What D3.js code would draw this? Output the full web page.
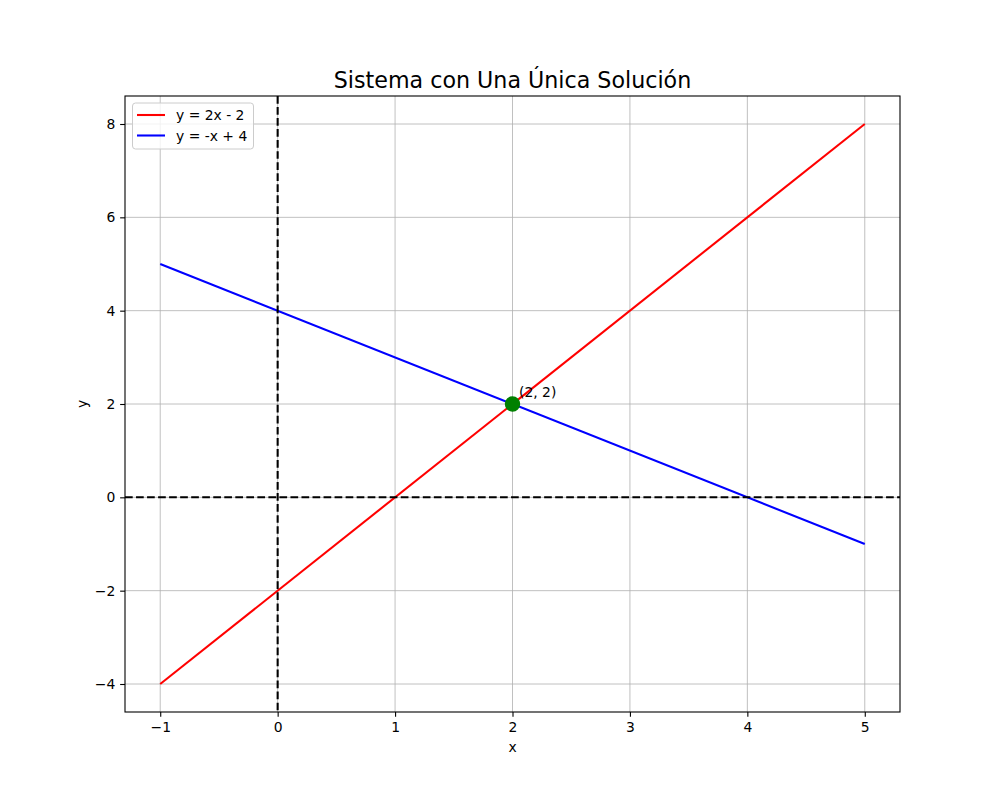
<!DOCTYPE html>
<html>
<head>
<meta charset="utf-8">
<script src="https://cdn.jsdelivr.net/npm/d3@7"></script>
<style>
body{margin:0;background:#fff;}
svg{font-family:"DejaVu Sans",sans-serif;}
</style>
</head>
<body>
<svg id="chart" width="1000" height="800"></svg>
<script>
const xTicks = [-1, 0, 1, 2, 3, 4, 5];
const yTicks = [-4, -2, 0, 2, 4, 6, 8];
const lineX = [-1, 5];
const redY = [-4, 8];
const blueY = [5, -1];
const seriesNames = ["y = 2x - 2", "y = -x + 4"];
const seriesColors = ["red", "blue"];
const solution = {x: 2, y: 2, label: "(2, 2)"};
const titleText = "Sistema con Una Única Solución";

const W = 1000, H = 800;
const m = {left: 125, right: 900, top: 96, bottom: 712};
const svg = d3.select("#chart");
const x = d3.scaleLinear().domain([-1.3, 5.3]).range([m.left, m.right]);
const y = d3.scaleLinear().domain([-4.6, 8.6]).range([m.bottom, m.top]);

// grid
const g = svg.append("g");
g.selectAll(".gx").data(xTicks).enter().append("line")
  .attr("x1", d => x(d)).attr("x2", d => x(d)).attr("y1", m.top).attr("y2", m.bottom)
  .attr("stroke", "#b0b0b0").attr("stroke-width", 0.8);
g.selectAll(".gy").data(yTicks).enter().append("line")
  .attr("y1", d => y(d)).attr("y2", d => y(d)).attr("x1", m.left).attr("x2", m.right)
  .attr("stroke", "#b0b0b0").attr("stroke-width", 0.8);

const clip = svg.append("defs").append("clipPath").attr("id", "clip")
  .append("rect").attr("x", m.left).attr("y", m.top).attr("width", m.right - m.left).attr("height", m.bottom - m.top);

const plot = svg.append("g").attr("clip-path", "url(#clip)");
const line = d3.line().x(d => x(d[0])).y(d => y(d[1]));
[redY, blueY].forEach((ys, i) => {
  plot.append("path").datum(lineX.map((v, j) => [v, ys[j]]))
    .attr("d", line).attr("fill", "none")
    .attr("stroke", seriesColors[i]).attr("stroke-width", 2.08);
});

// dashed axes
plot.append("line").attr("x1", m.left).attr("x2", m.right).attr("y1", y(0)).attr("y2", y(0))
  .attr("stroke", "black").attr("stroke-width", 2.08).attr("stroke-dasharray", "7.7,3.33");
plot.append("line").attr("x1", x(0)).attr("x2", x(0)).attr("y1", m.top).attr("y2", m.bottom)
  .attr("stroke", "black").attr("stroke-width", 2.08).attr("stroke-dasharray", "7.7,3.33");

// point
svg.append("circle").attr("cx", x(solution.x)).attr("cy", y(solution.y)).attr("r", 7)
  .attr("fill", "green").attr("stroke", "green").attr("stroke-width", 1.4);
svg.append("text").attr("x", x(solution.x) + 6.5).attr("y", y(solution.y) - 7.5)
  .attr("font-size", "13.9px").attr("fill", "#000").text(solution.label);

// axes
const xAxis = d3.axisBottom(x).tickValues(xTicks).tickSize(4.86).tickPadding(4.9)
  .tickFormat(d => d < 0 ? "\u2212" + Math.abs(d) : d);
const yAxis = d3.axisLeft(y).tickValues(yTicks).tickSize(4.86).tickPadding(4.9)
  .tickFormat(d => d < 0 ? "\u2212" + Math.abs(d) : d);
const xa = svg.append("g").attr("transform", `translate(0,${m.bottom})`).call(xAxis);
const ya = svg.append("g").attr("transform", `translate(${m.left},0)`).call(yAxis);
[xa, ya].forEach(a => {
  a.select(".domain").remove();
  a.selectAll("text").attr("font-size", "13.9px").attr("fill", "#000").style("font-family", "DejaVu Sans");
  a.selectAll("line").attr("stroke", "#000").attr("stroke-width", 1.1);
});

svg.append("rect").attr("x", m.left).attr("y", m.top).attr("width", m.right - m.left).attr("height", m.bottom - m.top)
  .attr("fill", "none").attr("stroke", "#000").attr("stroke-width", 1.1);

// labels
svg.append("text").attr("x", (m.left + m.right) / 2).attr("y", 752).attr("text-anchor", "middle")
  .attr("font-size", "13.9px").text("x");
svg.append("text").attr("transform", `translate(87,${(m.top + m.bottom) / 2}) rotate(-90)`).attr("text-anchor", "middle")
  .attr("font-size", "13.9px").text("y");
svg.append("text").attr("x", (m.left + m.right) / 2).attr("y", 88).attr("text-anchor", "middle")
  .attr("font-size", "22.2px").text(titleText);

// legend
const lg = svg.append("g");
lg.append("rect").attr("x", 132.5).attr("y", 103).attr("width", 121).attr("height", 46).attr("rx", 3)
  .attr("fill", "white").attr("fill-opacity", 0.8).attr("stroke", "#cccccc").attr("stroke-width", 1);
seriesNames.forEach((n, i) => {
  const cy = 115 + i * 20.5;
  lg.append("line").attr("x1", 137).attr("x2", 165).attr("y1", cy).attr("y2", cy)
    .attr("stroke", seriesColors[i]).attr("stroke-width", 2.08);
  lg.append("text").attr("x", 176).attr("y", cy + 5).attr("font-size", "13.9px").text(n);
});
</script>
</body>
</html>
